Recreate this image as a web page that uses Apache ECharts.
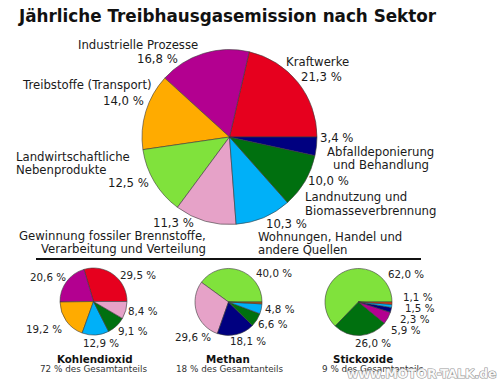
<!DOCTYPE html>
<html><head><meta charset="utf-8">
<script src="https://cdn.jsdelivr.net/npm/echarts@6/dist/echarts.min.js"></script>
<style>html,body{margin:0;padding:0;background:#fff}#c{width:500px;height:382px}</style>
</head><body><div id="c"></div>
<script>
// ---- data ----
const chartTitle = 'Jährliche Treibhausgasemission nach Sektor';
const mainNames = ['Kraftwerke', 'Industrielle Prozesse', 'Treibstoffe (Transport)',
  'Landwirtschaftliche\nNebenprodukte', 'Gewinnung fossiler Brennstoffe,\nVerarbeitung und Verteilung',
  'Wohnungen, Handel und\nandere Quellen', 'Landnutzung und\nBiomasseverbrennung',
  'Abfalldeponierung\nund Behandlung'];
const mainValues = [21.3, 16.8, 14.0, 12.5, 11.3, 10.3, 10.0, 3.4];

const gasNames = ['Kohlendioxid', 'Methan', 'Stickoxide'];
const gasShares = ['72 % des Gesamtanteils', '18 % des Gesamtanteils', '9 % des Gesamtanteils'];
const co2Values = [29.5, 20.6, 19.2, 12.9, 9.1, 8.4];
const ch4Values = [40.0, 29.6, 18.1, 6.6, 4.8, 0.9];
const noxValues = [62.0, 26.0, 5.9, 2.3, 1.5, 1.1];
const watermark = 'www.MOTOR-TALK.de';

// ---- styles ----
const C = {red:'#e6001e', purple:'#b30090', orange:'#ffab00', lgreen:'#80e23c', pink:'#e6a2c8',
  lblue:'#00b0f8', dgreen:'#00700f', navy:'#000080', brown:'#b35a10', redor:'#e63a10'};
const mainColors = [C.red, C.purple, C.orange, C.lgreen, C.pink, C.lblue, C.dgreen, C.navy];
const co2Colors = [C.red, C.purple, C.orange, C.lblue, C.dgreen, C.pink];
const ch4Colors = [C.lgreen, C.pink, C.navy, C.dgreen, C.lblue, C.brown];
const noxColors = [C.lgreen, C.dgreen, C.purple, C.navy, C.lblue, C.redor];
const FF = 'DejaVu Sans';
const fmt = v => v.toFixed(1).replace('.', ',') + ' %';

// label layout (left x, middle y)
const mainNamePos = [[[286,62]], [[78,45]], [[23,85]], [[16,157],[16,170]], [[19,236],[41,249]],
  [[258,237],[258,250]], [[305,197],[305,211]], [[327,152],[333,165]]];
const mainValuePos = [[301,77],[137,59],[103,101],[108,183],[153,223],[266,224],[308,181],[320,138]];
const co2Pos = [[120,275],[30,277],[26,329],[83,343],[118,331],[128,311]];
const ch4Pos = [[256,273],[175,337],[230,341],[258,324],[265,309],null];
const noxPos = [[388,274],[355,343],[391,330],[400,319],[405,307.5],[403,296.5]];
const smallPies = [
  {values: co2Values, colors: co2Colors, pos: co2Pos, center:[93.5,301.5], tx:57, sx:40},
  {values: ch4Values, colors: ch4Colors, pos: ch4Pos, center:[228.5,302], tx:206, sx:176},
  {values: noxValues, colors: noxColors, pos: noxPos, center:[358.5,302], tx:333, sx:322}
];

const pieBase = {type:'pie', startAngle:0, clockwise:false, silent:true, animation:false,
  label:{show:false}, labelLine:{show:false}, itemStyle:{borderColor:'#3a3a3a', borderWidth:0.6}};

const series = [Object.assign({}, pieBase, {center:[229.5,137], radius:87.5,
  data: mainValues.map((v,i) => ({value:v, name:mainNames[i], itemStyle:{color:mainColors[i]}}))})];
smallPies.forEach((p, k) => series.push(Object.assign({}, pieBase, {center:p.center, radius:33.5,
  data: p.values.map((v,i) => ({value:v, name:gasNames[k]+i, itemStyle:{color:p.colors[i]}}))})));

const txt = (x, y, text, size, extra) => Object.assign({type:'text', x, y, silent:true,
  style: Object.assign({text, fill:'#1a1a1a', font: size + 'px "' + FF + '"', align:'left', verticalAlign:'middle'}, extra||{})});

const graphics = [];
mainNames.forEach((n, i) => {
  n.split('\n').forEach((line, j) => graphics.push(txt(mainNamePos[i][j][0], mainNamePos[i][j][1], line, 11.7)));
  graphics.push(txt(mainValuePos[i][0], mainValuePos[i][1], fmt(mainValues[i]), 11.7));
});
smallPies.forEach((p, k) => {
  p.values.forEach((v, i) => { if (p.pos[i]) graphics.push(txt(p.pos[i][0], p.pos[i][1], fmt(v), 10.3, {fill:'#222'})); });
  graphics.push(txt(p.tx, 359, gasNames[k], 10.3, {font:'bold 10.3px "' + FF + '"', fill:'#111'}));
  graphics.push(txt(p.sx, 369, gasShares[k], 8.8, {fill:'#333'}));
});
graphics.push({type:'line', silent:true, shape:{x1:36,y1:259,x2:421,y2:259}, style:{stroke:'#111', lineWidth:2}});
graphics.push(txt(347, 373, watermark, 12.4, {font:'bold 12.4px "' + FF + '"', fill:'#ffffff', stroke:'#8a8a8a', lineWidth:1.2, opacity:0.9}));

const chart = echarts.init(document.getElementById('c'), null, {renderer:'svg'});
chart.setOption({
  animation:false,
  backgroundColor:'#fff',
  title:{text:chartTitle, left:19, top:7, padding:0,
    textStyle:{fontFamily:FF, fontWeight:'bold', fontSize:16.8, color:'#111'}},
  series,
  graphic: graphics
});
</script></body></html>
